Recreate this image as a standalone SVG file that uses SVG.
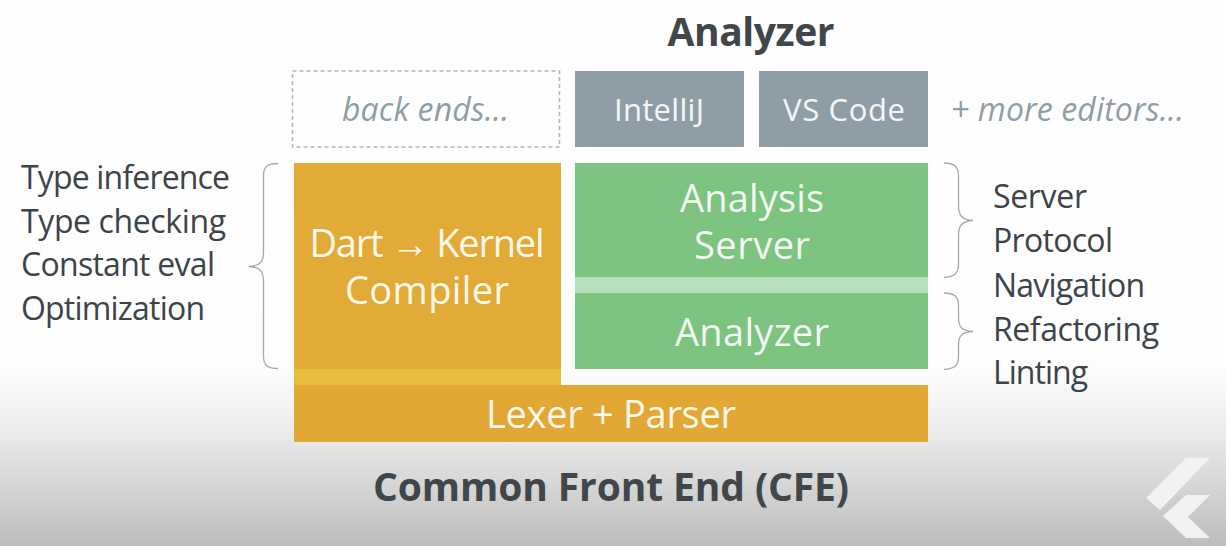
<svg xmlns="http://www.w3.org/2000/svg" width="1226" height="546" viewBox="0 0 1226 546">
<defs>
<linearGradient id="bg" x1="0" y1="0" x2="0" y2="1"><stop offset="0" stop-color="#fefefe"/><stop offset="0.68" stop-color="#fdfdfd"/><stop offset="0.8" stop-color="#e9e9e9"/><stop offset="1" stop-color="#bdbdbd"/></linearGradient>
</defs>
<style>
text{font-family:"Open Sans","Liberation Sans",sans-serif}
.side{font-size:32px;fill:#3c4449}
.w{fill:#fdf8ea;font-size:38px;text-anchor:middle}
.g{fill:#f3f9f3;font-size:38px;text-anchor:middle}
.s{fill:#f3f6f7;font-size:31px;text-anchor:middle}
.it{font-style:italic;fill:#8f9ea4;font-size:32px}
.h{font-weight:700;fill:#40464a}
.b{fill:none;stroke:#a9a9a9;stroke-width:1.300}
</style>
<rect width="1226" height="546" fill="url(#bg)"/>
<g id="back-ends"><rect x="292.500" y="71" width="267" height="76" fill="none" stroke="#b5b5b5" stroke-width="1.500" stroke-dasharray="4 3"/><text class="it" x="342" y="121" textLength="167">back ends...</text></g>
<g id="intellij"><rect x="575" y="71" width="169" height="76" fill="#8f9ea6"/><text class="s" x="659" y="121" textLength="90">IntelliJ</text></g>
<g id="vscode"><rect x="759" y="71" width="169" height="76" fill="#8f9ea6"/><text class="s" x="844" y="121" textLength="122">VS Code</text></g>
<g id="more-editors"><text class="it" x="951" y="121" textLength="233">+ more editors...</text></g>
<g id="analyzer-title"><text class="h" x="751" y="46" font-size="39" text-anchor="middle" textLength="167">Analyzer</text></g>
<g id="kernel"><rect x="294" y="163" width="267" height="206" fill="#e2ab37"/><rect x="294" y="369" width="267" height="16" fill="#e6bd3e"/>
<text class="w"><tspan x="427" y="257" textLength="235">Dart → Kernel</tspan><tspan x="427" y="304" textLength="164">Compiler</tspan></text></g>
<g id="analysis-server"><rect x="575" y="163" width="353" height="114" fill="#7cc47f"/><text class="g"><tspan x="752" y="212" textLength="144">Analysis</tspan><tspan x="752" y="259" textLength="116">Server</tspan></text></g>
<g id="connector-band"><rect x="575" y="277" width="353" height="16" fill="#b9e0ba"/></g>
<g id="analyzer"><rect x="575" y="293" width="353" height="76" fill="#7cc47f"/><text class="g" x="752" y="346" textLength="154">Analyzer</text></g>
<g id="lexer"><rect x="294" y="385" width="634" height="57" fill="#e2a735"/><text class="w" x="611" y="428" textLength="250">Lexer + Parser</text></g>
<g id="cfe"><text class="h" x="611" y="501" font-size="39" text-anchor="middle" textLength="476">Common Front End (CFE)</text></g>
<g id="left-labels"><text class="side" x="21" y="189" textLength="209">Type inference</text><text class="side" x="21" y="233" textLength="205">Type checking</text><text class="side" x="21" y="276" textLength="194">Constant eval</text><text class="side" x="21" y="320" textLength="184">Optimization</text></g>
<g id="right-labels"><text class="side" x="993" y="208" textLength="94">Server</text><text class="side" x="993" y="252" textLength="120">Protocol</text><text class="side" x="993" y="297" textLength="152">Navigation</text><text class="side" x="993" y="341" textLength="166">Refactoring</text><text class="side" x="993" y="384" textLength="95">Linting</text></g>
<g id="connectors">
<path class="b" d="M278 163.500C268 163.500 263.500 166 263.500 176V252C263.500 262 260 266 249 266.500C260 267 263.500 271 263.500 281V356C263.500 366 268 368.500 278 368.500"/>
<path class="b" d="M944 163C954 163 958.500 166 958.500 176V206C958.500 215 962 220 973 220.500C962 221 958.500 226 958.500 235V264C958.500 274 954 277 944 277.500"/>
<path class="b" d="M944 293C954 293 958.500 296 958.500 306V318C958.500 327 962 331 973 331.500C962 332 958.500 336 958.500 345V356C958.500 366 954 369 944 369.500"/>
</g>
<g id="logo" fill="#f2f2f2"><polygon points="1210,458 1186,458 1146,498 1160,510"/><polygon points="1210,495 1186,495 1163,516 1186,538 1210,538 1188,517"/></g>
</svg>
